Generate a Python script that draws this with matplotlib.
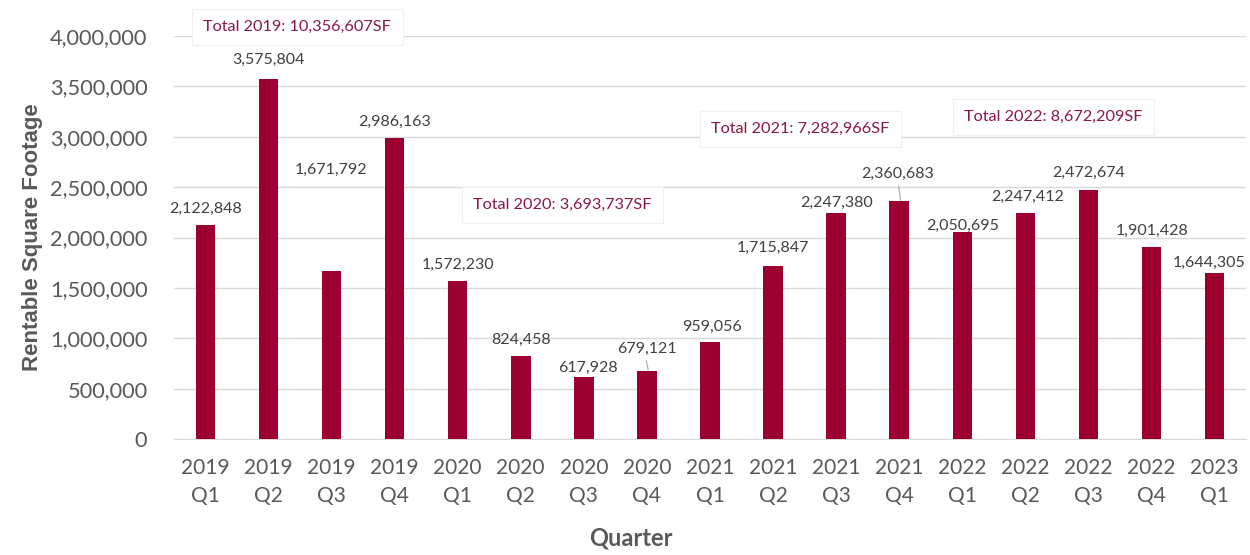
import matplotlib
matplotlib.use("Agg")
import matplotlib.pyplot as plt
from matplotlib.ticker import FuncFormatter

quarters = ["2019\nQ1", "2019\nQ2", "2019\nQ3", "2019\nQ4",
            "2020\nQ1", "2020\nQ2", "2020\nQ3", "2020\nQ4",
            "2021\nQ1", "2021\nQ2", "2021\nQ3", "2021\nQ4",
            "2022\nQ1", "2022\nQ2", "2022\nQ3", "2022\nQ4",
            "2023\nQ1"]
square_feet = [2122848, 3575804, 1671792, 2986163,
               1572230, 824458, 617928, 679121,
               959056, 1715847, 2247380, 2360683,
               2050695, 2247412, 2472674, 1901428,
               1644305]
# label anchor heights (data units) for each bar's value label
label_heights = [2283000, 3762000, 2670000, 3146000,
                 1727000, 983000, 705000, 893000,
                 1112000, 1896000, 2342000, 2630000,
                 2114000, 2402000, 2640000, 2065000,
                 1747000]
label_x_shift = [0, 0, 0, 0, 0, 0, 0.07, 0, 0.03, 0, 0, -0.03, 0, 0.03, 0, 0, -0.09]
# bars whose value label is joined to the bar by a short leader line
leader_bars = [7, 11]

totals = ["Total 2019: 10,356,607SF", "Total 2020: 3,693,737SF",
          "Total 2021: 7,282,966SF", "Total 2022: 8,672,209SF"]
total_pos = [(1.46, 4089000), (5.66, 2323000), (9.43, 3077000), (13.44, 3196000)]

bar_color = "#9C0031"
text_gray = "#404040"
axis_gray = "#595959"
total_color = "#8A1747"

fig = plt.figure(figsize=(12.5, 5.55), dpi=100)
ax = fig.add_axes([0.139, 0.209, 0.858, 0.726])

x = list(range(len(quarters)))
ax.bar(x, square_feet, width=0.31, color=bar_color, zorder=3)

ax.set_xlim(-0.5, len(quarters) - 0.5)
ax.set_ylim(0, 4000000)
ax.set_yticks(range(0, 4000001, 500000))
ax.yaxis.set_major_formatter(FuncFormatter(lambda v, p: f"{int(v):,}"))
ax.grid(axis="y", color="#d9d9d9", linewidth=1.0, zorder=0)
ax.set_xticks(x)
ax.set_xticklabels(quarters, fontfamily="Lato", fontsize=15, color=axis_gray,
                   linespacing=1.45)
for lab in ax.get_yticklabels():
    lab.set_fontfamily("Lato")
    lab.set_fontsize(15.7)
    lab.set_color(axis_gray)
ax.tick_params(axis="both", length=0)
ax.tick_params(axis="x", pad=14)
ax.tick_params(axis="y", pad=19)
for s in ["top", "right", "left"]:
    ax.spines[s].set_visible(False)
ax.spines["bottom"].set_color("#d9d9d9")

ax.set_ylabel("Rentable Square Footage", fontfamily="Liberation Sans",
              fontweight="bold", fontsize=16, color=axis_gray, labelpad=5)
ax.set_xlabel("Quarter", fontfamily="Lato", fontweight="bold", fontsize=17,
              color=axis_gray)
ax.xaxis.set_label_coords(0.4266, -0.2457)
ax.xaxis.label.set_va("center")

for i, (v, h, dx) in enumerate(zip(square_feet, label_heights, label_x_shift)):
    ax.text(i + dx, h, f"{v:,}", ha="center", va="center", fontfamily="Lato",
            fontsize=11.5, color=text_gray, zorder=4, clip_on=False)
    if i in leader_bars:
        ax.plot([i - 0.01, i + 0.02], [h - 120000, v + 10000],
                color="#a6a6a6", linewidth=0.8, zorder=4, clip_on=False)

for t, (tx, ty) in zip(totals, total_pos):
    ax.text(tx, ty, t, ha="center", va="center", fontfamily="Lato",
            fontsize=11.7, color=total_color, zorder=5, clip_on=False,
            bbox=dict(boxstyle="square,pad=0.7", facecolor="white",
                      edgecolor="#f0f0f0", linewidth=0.8))

fig.savefig("out.png", dpi=100, facecolor="white")
